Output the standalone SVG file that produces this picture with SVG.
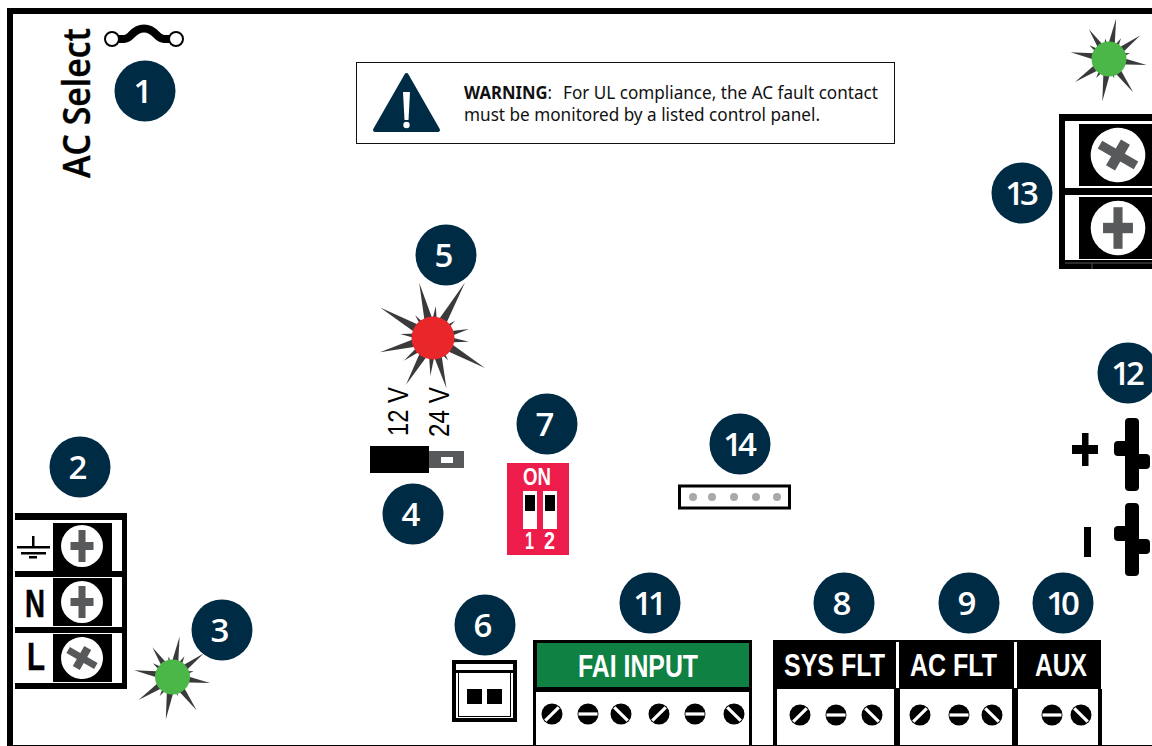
<svg xmlns="http://www.w3.org/2000/svg" xmlns:xlink="http://www.w3.org/1999/xlink" width="1152" height="746" viewBox="0 0 1152 746">
<style>
.k{fill:#000}.w{fill:#fff}.g{fill:#58595b}
.bc{fill:#002b45}
.bt{fill:#fff;font-family:"Open Sans","Noto Sans",sans-serif;font-weight:600;font-size:33px;text-anchor:middle;transform:translate(-2px,0)}
.sp{fill:#3a3a3c}
.lab{fill:#fff;font-family:"Liberation Sans",Arial,sans-serif;font-weight:700;font-size:32px}
.wt{fill:#111;font-family:"Noto Sans","Open Sans",sans-serif;font-size:18px}
.big{font-family:"Liberation Sans",Arial,sans-serif;font-weight:700;font-size:38px;fill:#000;stroke:#000;stroke-width:.5px}
.v{font-family:"Liberation Sans",Arial,sans-serif;font-size:29px;fill:#000}
.dip{font-family:"Liberation Sans",Arial,sans-serif;font-weight:700;font-size:23px;fill:#fff}
</style>
<defs>
<polygon id="s" points="-5,0 5,0 0,-1"/>
<g id="bg" class="sp">
<use xlink:href="#s" transform="rotate(10) scale(1,41)"/><use xlink:href="#s" transform="rotate(-34) scale(1,36)"/><use xlink:href="#s" transform="rotate(-11) scale(1,21)"/><use xlink:href="#s" transform="rotate(30) scale(1,24)"/><use xlink:href="#s" transform="rotate(53) scale(1,39)"/><use xlink:href="#s" transform="rotate(74) scale(1,22)"/><use xlink:href="#s" transform="rotate(99) scale(1,38)"/><use xlink:href="#s" transform="rotate(144) scale(1,41)"/><use xlink:href="#s" transform="rotate(165) scale(1,20)"/><use xlink:href="#s" transform="rotate(189) scale(1,43)"/><use xlink:href="#s" transform="rotate(214) scale(1,23)"/><use xlink:href="#s" transform="rotate(236) scale(1,41)"/><use xlink:href="#s" transform="rotate(280) scale(1,39)"/><use xlink:href="#s" transform="rotate(305) scale(1,24)"/>
<circle r="17.5" fill="#4cb749"/>
</g>
<g id="plus"><circle r="21" class="w"/><rect x="-3.5" y="-16" width="7" height="32" class="g"/><rect x="-11.5" y="-4" width="23" height="8" class="g"/></g>
<g id="scr"><circle r="10.5" class="k"/><rect x="-9.5" y="-1.6" width="19" height="3.2" class="w"/></g>
<g id="pin"><rect x="11" y="0" width="14" height="73" rx="4" class="k"/><rect x="0" y="23" width="16" height="15" rx="4" class="k"/><rect x="20" y="36" width="16" height="15" rx="4" class="k"/></g>
</defs>
<rect width="1152" height="746" class="w"/>
<g id="frame"><rect x="7" y="8" width="1145" height="6" class="k"/><rect x="7" y="8" width="6" height="738" class="k"/><rect x="7" y="745" width="1145" height="1" class="k"/></g>

<g id="node-ac-select">
<text transform="translate(90 178) rotate(-90)" textLength="150" lengthAdjust="spacingAndGlyphs" style="font-family:'Open Sans','Noto Sans',sans-serif;font-weight:600;font-size:38px;fill:#000;stroke:#000;stroke-width:.4px">AC Select</text>
<path d="M118 39H124C132 39 132 28.500 144 28.500S156 39 164 39H170" fill="none" stroke="#000" stroke-width="8"/>
<circle cx="112" cy="39" r="7" fill="#fff" stroke="#000" stroke-width="2"/><circle cx="176" cy="39" r="7" fill="#fff" stroke="#000" stroke-width="2"/>
</g>

<g id="node-warning">
<rect x="356.500" y="62.500" width="538" height="81" fill="#fff" stroke="#111" stroke-width="1"/>
<path d="M406.500 75L438 130H375Z" fill="#002b45" stroke="#002b45" stroke-width="4" stroke-linejoin="round"/>
<path d="M403 92H410L408.500 120H404.500Z" class="w"/><circle cx="406.500" cy="125" r="3.200" class="w"/>
<text x="464" y="99" class="wt" textLength="88" lengthAdjust="spacingAndGlyphs"><tspan font-weight="700">WARNING</tspan>:</text>
<text x="563" y="99" class="wt" textLength="315" lengthAdjust="spacingAndGlyphs">For UL compliance, the AC fault contact</text>
<text x="464" y="121" class="wt" textLength="356" lengthAdjust="spacingAndGlyphs">must be monitored by a listed control panel.</text>
</g>

<g id="node-led-top"><use xlink:href="#bg" x="1109" y="59"/></g>
<g id="node-led-ac"><use xlink:href="#bg" x="172.500" y="677"/></g>
<g id="node-led-red" transform="translate(433 338)">
<g class="sp"><use xlink:href="#s" transform="rotate(-14) scale(1.2,57)"/><use xlink:href="#s" transform="rotate(30) scale(1.2,64)"/><use xlink:href="#s" transform="rotate(-60) scale(1.2,61)"/><use xlink:href="#s" transform="rotate(5) scale(1,32)"/><use xlink:href="#s" transform="rotate(-38) scale(1,29)"/><use xlink:href="#s" transform="rotate(52) scale(1,28)"/><use xlink:href="#s" transform="rotate(76) scale(1,37)"/><use xlink:href="#s" transform="rotate(96) scale(1,36)"/><use xlink:href="#s" transform="rotate(120) scale(1.2,60)"/><use xlink:href="#s" transform="rotate(165) scale(1.2,52)"/><use xlink:href="#s" transform="rotate(146) scale(1,27)"/><use xlink:href="#s" transform="rotate(184) scale(1,38)"/><use xlink:href="#s" transform="rotate(210) scale(1.2,54)"/><use xlink:href="#s" transform="rotate(232) scale(1,37)"/><use xlink:href="#s" transform="rotate(255) scale(1.2,55)"/><use xlink:href="#s" transform="rotate(277) scale(1,33)"/></g>
<circle r="21.500" fill="#e9272a"/>
</g>

<g id="node-ac-terminal">
<rect x="15" y="513" width="112" height="7" class="k"/><rect x="122" y="513" width="5" height="176" class="k"/>
<rect x="15" y="571" width="107" height="6" class="k"/><rect x="15" y="627" width="107" height="6" class="k"/><rect x="15" y="683" width="112" height="6" class="k"/>
<rect x="53" y="523" width="59" height="48" class="k"/><rect x="53" y="578" width="59" height="48" class="k"/><rect x="53" y="634" width="59" height="48" class="k"/>
<use xlink:href="#plus" x="82" y="546"/><use xlink:href="#plus" x="82" y="602"/>
<g transform="translate(82 658) rotate(-60)"><use xlink:href="#plus"/></g>
<rect x="32" y="536" width="2.500" height="11" class="k"/><rect x="17" y="546" width="33" height="2.500" class="k"/><rect x="21" y="552" width="25" height="2.500" class="k"/><rect x="29" y="556" width="8" height="2.500" class="k"/>
<text x="25" y="617" textLength="20" lengthAdjust="spacingAndGlyphs" class="big">N</text>
<text x="27" y="669.500" textLength="18" lengthAdjust="spacingAndGlyphs" class="big">L</text>
</g>

<g id="node-jumper">
<text transform="translate(408 436) rotate(-90)" textLength="49" lengthAdjust="spacingAndGlyphs" class="v">12 V</text>
<text transform="translate(449 437) rotate(-90)" textLength="50" lengthAdjust="spacingAndGlyphs" class="v">24 V</text>
<rect x="429" y="451" width="35" height="17" class="g"/><rect x="441" y="457" width="12" height="6" class="w"/><rect x="370" y="446" width="59" height="27" class="k"/>
</g>

<g id="node-dip">
<rect x="507" y="463" width="62" height="92" fill="#ed1c4a"/>
<text x="523" y="485" textLength="28" lengthAdjust="spacingAndGlyphs" class="dip">ON</text>
<rect x="523" y="491" width="14" height="38" class="w"/><rect x="543" y="491" width="14" height="38" class="w"/>
<rect x="525" y="495" width="10" height="16" class="k"/><rect x="545" y="495" width="10" height="16" class="k"/>
<text x="525" y="549" textLength="9" lengthAdjust="spacingAndGlyphs" class="dip">1</text>
<text x="544" y="549" textLength="11" lengthAdjust="spacingAndGlyphs" class="dip">2</text>
</g>

<g id="node-header"><rect x="679.500" y="486" width="110" height="22" fill="#fff" stroke="#000" stroke-width="3"/>
<g fill="#a7a9ac"><circle cx="693" cy="497" r="4"/><circle cx="712" cy="497" r="4"/><circle cx="734" cy="497" r="4"/><circle cx="756" cy="497" r="4"/><circle cx="777" cy="497" r="4"/></g></g>

<g id="node-connector">
<rect x="454" y="662" width="61" height="58" fill="#fff" stroke="#000" stroke-width="4"/>
<rect x="452" y="670" width="65" height="3" class="k"/>
<rect x="458.500" y="672.500" width="52" height="44" fill="none" stroke="#000" stroke-width="1"/>
<rect x="467" y="689" width="15" height="15" class="k"/><rect x="487" y="689" width="15" height="15" class="k"/>
</g>

<g id="node-fai">
<rect x="533" y="640" width="219" height="52" class="k"/><rect x="537" y="643" width="212" height="44" fill="#0f8142"/>
<rect x="533" y="691" width="3" height="55" class="k"/><rect x="749" y="691" width="3" height="55" class="k"/>
<text x="578" y="677" class="lab" textLength="120" lengthAdjust="spacingAndGlyphs">FAI INPUT</text>
<use xlink:href="#scr" transform="translate(552 714) rotate(-45)"/><use xlink:href="#scr" transform="translate(588 714)"/><use xlink:href="#scr" transform="translate(621 714) rotate(45)"/>
<use xlink:href="#scr" transform="translate(659 714) rotate(-45)"/><use xlink:href="#scr" transform="translate(695 714)"/><use xlink:href="#scr" transform="translate(734 714) rotate(45)"/>
</g>

<g id="node-relays">
<rect x="773" y="640" width="328" height="49" class="k"/>
<rect x="896" y="642" width="3" height="46" class="w"/><rect x="1014" y="642" width="3" height="46" class="w"/>
<rect x="773" y="689" width="4" height="57" class="k"/><rect x="894" y="689" width="6" height="57" class="k"/><rect x="1012" y="689" width="6" height="57" class="k"/><rect x="1098" y="689" width="4" height="57" class="k"/>
<text x="784" y="676" class="lab" textLength="101" lengthAdjust="spacingAndGlyphs">SYS FLT</text>
<text x="910" y="676" class="lab" textLength="87" lengthAdjust="spacingAndGlyphs">AC FLT</text>
<text x="1035" y="676" class="lab" textLength="52" lengthAdjust="spacingAndGlyphs">AUX</text>
<use xlink:href="#scr" transform="translate(800 715) rotate(-45)"/><use xlink:href="#scr" transform="translate(836 715)"/><use xlink:href="#scr" transform="translate(872 715) rotate(45)"/>
<use xlink:href="#scr" transform="translate(920 715) rotate(-45)"/><use xlink:href="#scr" transform="translate(959 715)"/><use xlink:href="#scr" transform="translate(992 715) rotate(45)"/>
<use xlink:href="#scr" transform="translate(1052 715)"/><use xlink:href="#scr" transform="translate(1081 715) rotate(45)"/>
</g>

<g id="node-battery">
<use xlink:href="#pin" x="1114" y="418"/><use xlink:href="#pin" x="1114" y="503"/>
<rect x="1072" y="445" width="26" height="9" class="k"/><rect x="1082" y="433" width="6.500" height="33" class="k"/>
<rect x="1084" y="527" width="7" height="30" class="k"/>
</g>

<g id="node-top-terminal">
<rect x="1059" y="114" width="93" height="7" class="k"/><rect x="1059" y="114" width="6" height="155" class="k"/>
<rect x="1065" y="188" width="87" height="7" class="k"/><rect x="1059" y="260" width="93" height="9" class="k"/>
<rect x="1065" y="262.500" width="87" height="1" class="g"/><rect x="1091.500" y="263" width="1" height="6" class="g"/>
<rect x="1079" y="124" width="73" height="62" class="k"/><rect x="1079" y="197" width="73" height="62" class="k"/>
<g transform="translate(1118 155) rotate(-60) scale(1.300)"><use xlink:href="#plus"/></g>
<g transform="translate(1118 228) scale(1.300)"><use xlink:href="#plus"/></g>
</g>

<g id="badges">
<g id="badge-1"><circle cx="145" cy="91" r="30.500" class="bc"/><text x="145" y="103" class="bt">1</text></g>
<g id="badge-2"><circle cx="80" cy="467" r="30.500" class="bc"/><text x="80" y="479" class="bt">2</text></g>
<g id="badge-3"><circle cx="222" cy="630" r="30.500" class="bc"/><text x="222" y="642" class="bt">3</text></g>
<g id="badge-4"><circle cx="413" cy="514" r="30.500" class="bc"/><text x="413" y="526" class="bt">4</text></g>
<g id="badge-5"><circle cx="446" cy="255" r="30.500" class="bc"/><text x="446" y="267" class="bt">5</text></g>
<g id="badge-6"><circle cx="485" cy="625" r="30.500" class="bc"/><text x="485" y="637" class="bt">6</text></g>
<g id="badge-7"><circle cx="547" cy="424" r="30.500" class="bc"/><text x="547" y="436" class="bt">7</text></g>
<g id="badge-8"><circle cx="844" cy="603" r="30.500" class="bc"/><text x="844" y="615" class="bt">8</text></g>
<g id="badge-9"><circle cx="969" cy="603" r="30.500" class="bc"/><text x="969" y="615" class="bt">9</text></g>
<g id="badge-10"><circle cx="1063" cy="603" r="30.500" class="bc"/><text x="1063" y="615" class="bt" letter-spacing="-4">10</text></g>
<g id="badge-11"><circle cx="650" cy="603" r="30.500" class="bc"/><text x="650" y="615" class="bt" letter-spacing="-4">11</text></g>
<g id="badge-12"><circle cx="1128" cy="373" r="30.500" class="bc"/><text x="1128" y="385" class="bt" letter-spacing="-4">12</text></g>
<g id="badge-13"><circle cx="1022" cy="193" r="30.500" class="bc"/><text x="1022" y="205" class="bt" letter-spacing="-4">13</text></g>
<g id="badge-14"><circle cx="740" cy="444" r="30.500" class="bc"/><text x="740" y="456" class="bt" letter-spacing="-4">14</text></g>
</g>
</svg>
